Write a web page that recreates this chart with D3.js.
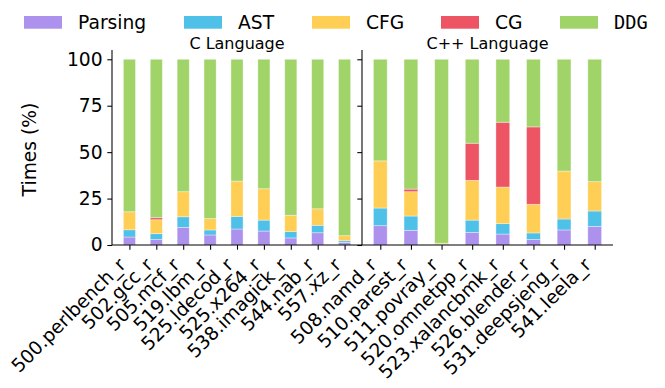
<!DOCTYPE html>
<html>
<head>
<meta charset="utf-8">
<script src="https://cdn.jsdelivr.net/npm/d3@7"></script>
<style>
  body { margin: 0; background: #fff; }
  svg { display: block; font-family: "DejaVu Sans", sans-serif; }
</style>
</head>
<body>
<svg id="chart" width="665" height="388"></svg>
<script>
var stages = ["Parsing", "AST", "CFG", "CG", "DDG"];
var colors = ["#ac92ec", "#4fc1e9", "#ffce54", "#ed5565", "#a0d468"];

var cBench = ["500.perlbench_r", "502.gcc_r", "505.mcf_r", "519.lbm_r", "525.ldecod_r",
              "525.x264_r", "538.imagick_r", "544.nab_r", "557.xz_r"];
// share of time per stage (%), DDG is what is left up to 100
var cParsing = [4.3, 3.0, 9.5, 5.4, 8.6, 7.5, 3.8, 6.6, 1.4];
var cAST     = [3.9, 3.1, 5.7, 2.7, 6.8, 5.9, 3.4, 4.0, 0.9];
var cCFG     = [9.7, 7.5, 13.5, 6.1, 19.0, 16.9, 8.8, 8.9, 2.7];
var cCG      = [0.0, 1.1, 0.0, 0.0, 0.0, 0.0, 0.0, 0.0, 0.0];

var cppBench = ["508.namd_r", "510.parest_r", "511.povray_r", "520.omnetpp_r",
                "523.xalancbmk_r", "526.blender_r", "531.deepsjeng_r", "541.leela_r"];
var cppParsing = [10.4, 7.9, 0.2, 6.8, 5.9, 3.0, 8.1, 10.0];
var cppAST     = [9.5, 7.7, 0.2, 6.6, 5.6, 3.5, 5.9, 8.3];
var cppCFG     = [25.4, 13.1, 0.6, 21.4, 19.7, 15.4, 25.8, 15.8];
var cppCG      = [0.0, 1.4, 0.0, 20.0, 34.9, 41.7, 0.0, 0.0];

var yTicks = [0, 25, 50, 75, 100];

function buildRows(names, p, a, f, g) {
  return names.map(function(n, i) {
    var row = { name: n, Parsing: p[i], AST: a[i], CFG: f[i], CG: g[i] };
    row.DDG = 100 - p[i] - a[i] - f[i] - g[i];
    return row;
  });
}

var panels = [
  { title: "C Language", rows: buildRows(cBench, cParsing, cAST, cCFG, cCG), left: 112, right: 362, labels: true },
  { title: "C++ Language", rows: buildRows(cppBench, cppParsing, cppAST, cppCFG, cppCG), left: 362, right: 613, labels: false }
];

var svg = d3.select("#chart");
var plotTop = 50, plotBottom = 245;
var barW = 0.45;
var color = d3.scaleOrdinal().domain(stages).range(colors);
var y = d3.scaleLinear().domain([0, 105]).range([plotBottom, plotTop]);
var stack = d3.stack().keys(stages);

panels.forEach(function(p) {
  var n = p.rows.length;
  var pad = 0.05 * (n - 1 + barW);
  var x = d3.scaleLinear()
    .domain([-barW / 2 - pad, n - 1 + barW / 2 + pad])
    .range([p.left, p.right]);
  var g = svg.append("g");

  var layers = g.selectAll("g.layer")
    .data(stack(p.rows))
    .enter().append("g")
    .attr("fill", function(d) { return color(d.key); });

  layers.selectAll("rect")
    .data(function(d) { return d; })
    .enter().append("rect")
    .attr("x", function(d, i) { return x(i - barW / 2); })
    .attr("width", function(d, i) { return x(i + barW / 2) - x(i - barW / 2); })
    .attr("y", function(d) { return y(d[1]); })
    .attr("height", function(d) { return y(d[0]) - y(d[1]); })
    .attr("stroke", "#fff")
    .attr("stroke-opacity", 0.45)
    .attr("stroke-width", 0.8);

  // y axis
  var yAxis = d3.axisLeft(y).tickValues(yTicks).tickSize(4.7).tickPadding(4.7);
  if (!p.labels) yAxis.tickFormat("");
  var ya = g.append("g")
    .attr("transform", "translate(" + p.left + ",0)")
    .call(yAxis);
  ya.select(".domain").attr("d", "M0," + plotTop + "V" + plotBottom);
  ya.selectAll("text").attr("font-size", 18.7).attr("font-family", "DejaVu Sans").attr("fill", "#000");
  ya.selectAll("line, path").attr("stroke", "#000").attr("stroke-width", 1.07);

  // x axis
  var xAxis = d3.axisBottom(x).tickValues(d3.range(n))
    .tickFormat(function(i) { return p.rows[i].name; })
    .tickSize(4.7);
  var xa = g.append("g")
    .attr("transform", "translate(0," + plotBottom + ")")
    .call(xAxis);
  xa.select(".domain").attr("d", "M" + p.left + ",0H" + p.right);
  xa.selectAll("line, path").attr("stroke", "#000").attr("stroke-width", 1.07);
  xa.selectAll("text")
    .attr("font-size", 18.7)
    .attr("font-family", "DejaVu Sans")
    .attr("fill", "#000")
    .attr("text-anchor", "end")
    .attr("dy", 0)
    .attr("y", 0)
    .attr("transform", "translate(-3,21) rotate(-45)");

  svg.append("text")
    .attr("x", (p.left + p.right) / 2)
    .attr("y", 49)
    .attr("text-anchor", "middle")
    .attr("font-size", 16)
    .text(p.title);
});

svg.append("text")
  .attr("transform", "translate(36," + ((plotTop + plotBottom) / 2 + 2) + ") rotate(-90)")
  .attr("text-anchor", "middle")
  .attr("font-size", 18.7)
  .text("Times (%)");

// legend
var legX = [24, 184, 312, 441, 560];
var leg = svg.append("g").selectAll("g")
  .data(stages)
  .enter().append("g")
  .attr("transform", function(d, i) { return "translate(" + legX[i] + ",0)"; });
leg.append("rect")
  .attr("y", 16).attr("width", 38).attr("height", 12.7)
  .attr("fill", function(d) { return color(d); });
leg.append("text")
  .attr("x", 54).attr("y", 29)
  .attr("font-size", 18.7)
  .attr("font-family", function(d) { return d === "DDG" ? "DejaVu Sans Mono" : "DejaVu Sans"; })
  .text(function(d) { return d; });
</script>
</body>
</html>
